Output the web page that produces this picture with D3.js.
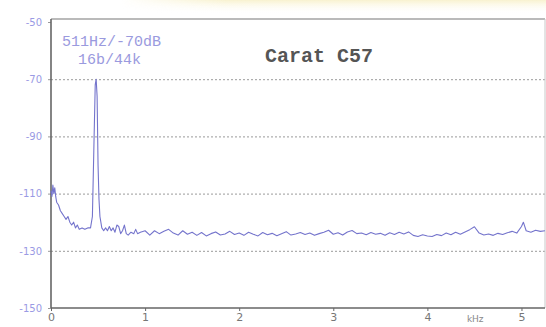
<!DOCTYPE html>
<html>
<head>
<meta charset="utf-8">
<script src="https://cdn.jsdelivr.net/npm/d3@7"></script>
<style>
  body { margin: 0; background: #fff; }
  svg { display: block; }
</style>
</head>
<body>
<div id="chart"></div>
<script>
// spectrum (kHz / dB)
const freqKHz = [
  0.00, 0.01, 0.02, 0.03, 0.04, 0.05, 0.06, 0.08, 0.10, 0.12, 0.14, 0.16, 0.18, 0.20,
  0.22, 0.24, 0.26, 0.28, 0.30, 0.33, 0.36, 0.39, 0.42, 0.44, 0.455, 0.47, 0.48, 0.49,
  0.50, 0.51, 0.52, 0.54, 0.56, 0.58, 0.60, 0.62, 0.64, 0.66, 0.68, 0.70, 0.72, 0.74,
  0.76, 0.78, 0.80, 0.82, 0.85, 0.88, 0.90, 0.92, 0.95,
  1.00, 1.05, 1.10, 1.15, 1.20, 1.25, 1.30, 1.35, 1.40, 1.45, 1.50, 1.55, 1.60, 1.65,
  1.70, 1.75, 1.80, 1.85, 1.90, 1.95, 2.00, 2.05, 2.10, 2.15, 2.20, 2.25, 2.30, 2.35,
  2.40, 2.45, 2.50, 2.55, 2.60, 2.65, 2.70, 2.75, 2.80, 2.85, 2.90, 2.95, 3.00, 3.05,
  3.10, 3.15, 3.20, 3.25, 3.30, 3.35, 3.40, 3.45, 3.50, 3.55, 3.60, 3.65, 3.70, 3.75,
  3.80, 3.85, 3.90, 3.95, 4.00, 4.05, 4.10, 4.15, 4.20, 4.25, 4.30, 4.35, 4.40, 4.45,
  4.50, 4.55, 4.60, 4.65, 4.70, 4.75, 4.80, 4.85, 4.90, 4.95, 5.00, 5.02, 5.05, 5.10,
  5.15, 5.20, 5.25
];
const levelDb = [
  -109, -111, -107, -110, -108, -111, -113, -114, -116, -117, -118, -119, -118, -120,
  -121, -120, -122, -121, -122.5, -122, -122.5, -122, -122, -118, -95, -72, -70, -76,
  -100, -112, -118, -122, -123, -122, -123, -121.5, -123, -122, -123.5, -121, -121.5, -124,
  -123, -121, -124, -124.5, -123.5, -124, -122.5, -124, -123.5,
  -123, -124.5, -123, -124, -123.2, -122.5, -123.8, -124.5, -123, -124.2, -123.5, -124.6, -123.6, -124.8,
  -124, -123.4, -124.5, -124.1, -123.2, -124.3, -123.8, -124.6, -123.5, -124.2, -124.8, -123.6, -124.4, -123.9,
  -124.7, -124, -123.3, -124.5, -124.1, -123.6, -124.3, -123.8, -124.6, -124, -123.5, -122.8, -124.2, -123.7,
  -124.5, -123.4, -122.9, -124, -123.8, -124.4, -123.6, -124.2, -123.9, -124.6, -123.7, -124.3, -123.5, -124.1,
  -123.4, -124.6, -125, -124.4, -124.8, -125, -124.3, -124.7, -123.8, -124.4, -123.5, -124.2, -123.4, -122.6,
  -121.6, -123.8, -124.5, -124.1, -124.6, -123.9, -124.3, -123.7, -123.2, -123.8, -121.5, -120, -123, -123.5,
  -122.8, -123.2, -123
];

const yTicks = [-50, -70, -90, -110, -130, -150];
const gridTicks = [-70, -90, -110, -130];
const xTicks = [0, 1, 2, 3, 4, 5];
const title = "Carat C57";
const noteLines = ["511Hz/-70dB", "16b/44k"];
const unitLabel = "kHz";

const width = 546, height = 327;
const plotLeft = 51, plotRight = 545, plotTop = 19, plotBottom = 308;

const svg = d3.select("#chart").append("svg")
  .attr("width", width)
  .attr("height", height);

// faint yellowish scan tint along the top edge
const defs = svg.append("defs");
const grad = defs.append("linearGradient")
  .attr("id", "tint").attr("x1", 0).attr("y1", 0).attr("x2", 0).attr("y2", 1);
grad.append("stop").attr("offset", "0%").attr("stop-color", "#f7efc4").attr("stop-opacity", 0.8);
grad.append("stop").attr("offset", "100%").attr("stop-color", "#ffffff").attr("stop-opacity", 0);
const fade = defs.append("linearGradient")
  .attr("id", "fadeX").attr("x1", 0).attr("y1", 0).attr("x2", 1).attr("y2", 0);
fade.append("stop").attr("offset", "0%").attr("stop-color", "#fff").attr("stop-opacity", 0);
fade.append("stop").attr("offset", "25%").attr("stop-color", "#fff").attr("stop-opacity", 1);
defs.append("mask").attr("id", "tintMask")
  .append("rect").attr("x", 120).attr("y", 0).attr("width", 426).attr("height", 14)
  .attr("fill", "url(#fadeX)");
svg.append("rect").attr("x", 120).attr("y", 0).attr("width", 426).attr("height", 14)
  .attr("fill", "url(#tint)").attr("mask", "url(#tintMask)");

const x = d3.scaleLinear().domain([0, 5.25]).range([plotLeft, plotRight]);
const y = d3.scaleLinear().domain([-150, -50]).range([plotBottom, 22]);

// dotted gridlines
svg.append("g")
  .attr("transform", `translate(${plotLeft},0)`)
  .call(d3.axisLeft(y).tickValues(gridTicks).tickSize(-(plotRight - plotLeft)).tickFormat(() => ""))
  .call(g => g.select(".domain").remove())
  .call(g => g.selectAll("line")
    .attr("stroke", "#9a9a9a")
    .attr("stroke-width", 1)
    .attr("stroke-dasharray", "2,2"));

// frame: top + right light, left + bottom darker
svg.append("line").attr("x1", plotLeft).attr("x2", plotRight).attr("y1", plotTop).attr("y2", plotTop)
  .attr("stroke", "#777").attr("stroke-width", 1.2);
svg.append("line").attr("x1", plotRight).attr("x2", plotRight).attr("y1", plotTop).attr("y2", plotBottom)
  .attr("stroke", "#c8c8c8").attr("stroke-width", 1);

// y labels (bluish)
svg.append("g")
  .attr("transform", `translate(${plotLeft},0)`)
  .call(d3.axisLeft(y).tickValues(yTicks).tickSize(3).tickPadding(6).tickFormat(d => d))
  .call(g => g.select(".domain").remove())
  .call(g => g.selectAll("line").attr("stroke", "#999"))
  .call(g => g.selectAll("text")
    .attr("fill", "#9a9ae4")
    .style("font-family", "DejaVu Sans, sans-serif")
    .style("font-size", "10px"));

// x labels
svg.append("g")
  .attr("transform", `translate(0,${plotBottom})`)
  .call(d3.axisBottom(x).tickValues(xTicks).tickSize(3).tickPadding(2).tickFormat(d => d))
  .call(g => g.select(".domain").remove())
  .call(g => g.selectAll("line").attr("stroke", "#666"))
  .call(g => g.selectAll("text")
    .attr("fill", "#777")
    .style("font-family", "DejaVu Sans, sans-serif")
    .style("font-size", "11px"));

svg.append("text")
  .attr("x", x(4.42)).attr("y", 322)
  .attr("fill", "#888")
  .style("font-family", "DejaVu Sans, sans-serif")
  .style("font-size", "9px")
  .text(unitLabel);

// axis lines
svg.append("line").attr("x1", plotLeft).attr("x2", plotLeft).attr("y1", plotTop).attr("y2", plotBottom)
  .attr("stroke", "#666").attr("stroke-width", 1.6);
svg.append("line").attr("x1", plotLeft).attr("x2", plotRight).attr("y1", plotBottom).attr("y2", plotBottom)
  .attr("stroke", "#666").attr("stroke-width", 1.6);

// spectrum trace
const line = d3.line()
  .x((d, i) => x(freqKHz[i]))
  .y(d => y(d));

svg.append("path")
  .datum(levelDb)
  .attr("d", line)
  .attr("fill", "none")
  .attr("stroke", "#7474cc")
  .attr("stroke-width", 1.1)
  .attr("stroke-linejoin", "round");

// annotation + title
svg.append("g").selectAll("text")
  .data(noteLines)
  .join("text")
  .attr("x", (d, i) => i === 0 ? 62 : 78)
  .attr("y", (d, i) => 46 + i * 18)
  .attr("fill", "#9a9ade")
  .style("font-family", "Liberation Mono, monospace")
  .style("font-size", "15px")
  .text(d => d);

svg.append("text")
  .attr("x", 265).attr("y", 62)
  .attr("fill", "#555")
  .style("font-family", "Liberation Mono, monospace")
  .style("font-weight", "bold")
  .style("font-size", "20px")
  .text(title);
</script>
</body>
</html>
